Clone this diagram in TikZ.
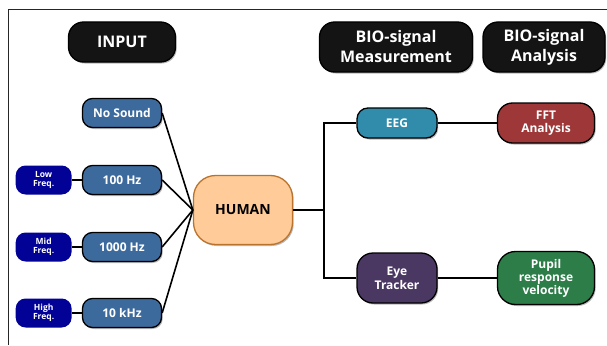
\documentclass[tikz,border=0pt]{standalone}
\usepackage{fontspec}
\setmainfont{Open Sans}
\usepackage{tikz}
\usetikzlibrary{positioning, shadows}

\definecolor{inblue}{RGB}{61,106,157}
\definecolor{freqblue}{RGB}{2,2,150}
\definecolor{peach}{RGB}{255,204,153}
\definecolor{peachline}{RGB}{185,115,45}
\definecolor{eegteal}{RGB}{48,140,170}
\definecolor{fftred}{RGB}{158,56,56}
\definecolor{eyepurple}{RGB}{74,56,98}
\definecolor{pupilgreen}{RGB}{44,125,72}

\begin{document}
\begin{tikzpicture}[x=1pt, y=-1pt,
    box/.style={draw=black, line width=1.3pt, rounded corners=11pt, align=center,
      text=white, font=\bfseries, inner sep=0pt,
      drop shadow={shadow xshift=1.2pt, shadow yshift=-1.5pt, fill=black!55}},
    header/.style={box, fill=black!92, minimum width=107pt, minimum height=40pt,
      rounded corners=15pt, font=\bfseries\fontsize{16}{20}\selectfont},
    inbox/.style={box, fill=inblue, minimum width=79pt, minimum height=29pt,
      rounded corners=10pt, font=\bfseries\fontsize{12}{14}\selectfont},
    freq/.style={fill=freqblue, rounded corners=10pt, minimum width=56pt,
      minimum height=29pt, inner sep=0pt, align=center, text=white,
      font=\bfseries\fontsize{8.5}{9.5}\selectfont},
    meas/.style={box, minimum width=80pt, font=\bfseries\fontsize{12}{14}\selectfont},
    result/.style={box, minimum width=97pt, rounded corners=15pt,
      font=\bfseries\fontsize{12}{13}\selectfont},
    wire/.style={line width=1.6pt}]

  \useasboundingbox (0,0) rectangle (607,345);
  \draw[line width=0.8pt, black!85] (607,9) -- (8,9) -- (8,345);

  % column titles
  \node[header] (input) at (122,42) {INPUT};
  \node[header, minimum width=153pt, minimum height=50pt] (measure) at (396,47)
    {BIO-signal\\Measurement};
  \node[header, minimum width=122pt, minimum height=50pt] (analysis) at (544,47)
    {BIO-signal\\Analysis};

  % stimuli
  \node[inbox] (nosound) at (122,113) {No Sound};
  \node[inbox] (hz100) at (122,180) {100 Hz};
  \node[inbox] (hz1000) at (122,247) {1000 Hz};
  \node[inbox] (khz10) at (122,313) {10 kHz};
  \node[freq, left=10pt of hz100] (low) {Low\\Freq.};
  \node[freq, left=10pt of hz1000] (mid) {Mid\\Freq.};
  \node[freq, left=10pt of khz10] (high) {High\\Freq.};

  \node[box, fill=peach, draw=peachline, text=black, minimum width=99pt,
    minimum height=69pt, rounded corners=22pt,
    font=\bfseries\fontsize{14}{17}\selectfont] (human) at (243,210) {HUMAN};

  % measurement and analysis
  \node[meas, fill=eegteal, minimum height=30pt] (eeg) at (397,123) {EEG};
  \node[meas, fill=eyepurple, minimum height=50pt, rounded corners=16pt] (eye) at (397,278)
    {Eye\\Tracker};
  \node[result, fill=fftred, minimum height=40pt] (fft) at (546,123) {FFT\\Analysis};
  \node[result, fill=pupilgreen, minimum height=53pt, rounded corners=18pt] (pupil) at (546,278)
    {Pupil\\response\\velocity};

  \coordinate (split) at (324,210);

  % connectors
  \foreach \src in {nosound, hz100, hz1000, khz10}
    \draw[wire] (\src.east) -- (human.west);
  \draw[wire] (low) -- (hz100);
  \draw[wire] (mid) -- (hz1000);
  \draw[wire] (high) -- (khz10);
  \draw[wire] (human) -- (split);
  \draw[wire] (eeg.west) -| (split) |- (eye.west);
  \draw[wire] (eeg) -- (fft);
  \draw[wire] (eye) -- (pupil);
\end{tikzpicture}
\end{document}
